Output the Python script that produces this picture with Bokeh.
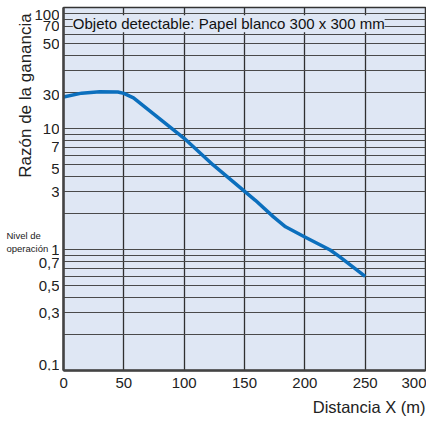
import math
from bokeh.plotting import figure
from bokeh.models import FixedTicker, Label, Range1d, Title
from bokeh.layouts import row
from bokeh.core.properties import value
from bokeh.embed import file_html
from bokeh.resources import INLINE

# ---- data ----
distance_m = [0, 15, 30, 45, 50, 58, 100, 124, 159, 174, 184, 200, 221, 229, 250]
gain_ratio = [18.2, 19.6, 20.1, 20.0, 19.5, 17.9, 8.3, 5.0, 2.55, 1.86, 1.54, 1.27, 0.99, 0.87, 0.60]

x_tick_pos = [0, 50, 100, 150, 200, 250, 291]
x_tick_labels = ["0", "50", "100", "150", "200", "250", "300"]
y_tick_pos = [0.11, 0.3, 0.5, 0.77, 1, 3, 4.6, 7, 10, 19, 50, 70, 86]
y_tick_labels = ["0,1", "0,3", "0,5", "0,7", "1", "3", "5", "7", "10", "30", "50", "70", "100"]
x_grid = [50, 100, 150, 200, 250]
y_grid = [0.2, 0.3, 0.4, 0.5, 0.6, 0.7, 0.8, 0.9, 1, 2, 3, 4, 5, 6, 7, 8, 9,
          10, 20, 30, 40, 50, 60, 70, 80, 90]
note_text = "Objeto detectable: Papel blanco 300 x 300 mm"
x_title = "Distancia X (m)"
y_title = "Razón de la ganancia"
level_text = ["Nivel de", "operación"]

FONT = "Liberation Sans"
BG = "#dfe7f4"
TXT = "#222222"
H = 423
LW = 59                       # width of the left strip holding the y labels
MW = 426 - LW                 # main figure width
MT, MB = 7, 53

y_range = Range1d(0.1, 100)

# ---------------- main plot ----------------
p = figure(width=MW, height=H, y_axis_type="log", output_backend="svg",
           toolbar_location=None, x_range=Range1d(0, 300), y_range=y_range,
           min_border_left=4, min_border_right=1, min_border_top=MT, min_border_bottom=MB)
p.background_fill_color = BG
p.border_fill_color = "white"
p.outline_line_color = "#333333"
p.outline_line_width = 1.5

p.xgrid.ticker = FixedTicker(ticks=x_grid)
p.ygrid.ticker = FixedTicker(ticks=y_grid)
p.xgrid.grid_line_color = "#2f2f2f"
p.xgrid.grid_line_width = 1.3
p.ygrid.grid_line_color = "#4a4a4a"
p.ygrid.grid_line_width = 1.2

p.xaxis.ticker = FixedTicker(ticks=x_tick_pos)
p.xaxis.major_label_overrides = {v: t for v, t in zip(x_tick_pos, x_tick_labels)}
p.yaxis.ticker = FixedTicker(ticks=[])
for ax in (p.xaxis, p.yaxis):
    ax.major_tick_line_color = None
    ax.minor_tick_line_color = None
    ax.major_tick_out = 0
    ax.major_tick_in = 0
    ax.axis_line_color = "#444444"
    ax.axis_line_width = 2.5
    ax.major_label_text_font = FONT
    ax.major_label_text_font_size = "15px"
    ax.major_label_text_color = TXT
p.xaxis.major_label_standoff = 7
p.yaxis.major_label_standoff = 0

p.line(distance_m, gain_ratio, line_color="#0b6fbd", line_width=3.5, line_join="round")

p.add_layout(Label(x=7.7, y=73.4, text=note_text, text_font=FONT, text_font_size="15px",
                   text_align="left", text_baseline="middle", text_color="#111111",
                   background_fill_color=BG))

p.add_layout(Title(text=x_title, align="right", text_font=FONT, text_font_size="16.5px",
                   text_font_style="normal", text_color=TXT, standoff=10), "below")

# ---------------- left strip: y tick labels, y title, operating level ----------------
left = figure(width=LW, height=H, y_axis_type="log", output_backend="svg",
              toolbar_location=None, x_range=Range1d(0, LW), y_range=y_range,
              min_border_left=0, min_border_right=0, min_border_top=MT, min_border_bottom=MB)
left.axis.visible = False
left.grid.visible = False
left.outline_line_color = None
left.background_fill_color = "white"
left.border_fill_color = "white"

left.text(x=[LW] * len(y_tick_pos), y=y_tick_pos, text=y_tick_labels,
          text_font=value(FONT), text_font_size="15px", text_color=TXT,
          text_align="right", text_baseline="middle")

frame_bottom = H - MB
left.add_layout(Label(x=25, y=frame_bottom - 95, x_units="screen", y_units="screen",
                      text=y_title, angle=math.pi / 2, text_font=FONT, text_font_size="17px",
                      text_align="center", text_baseline="middle", text_color=TXT))
for txt, sy in zip(level_text, [235, 248]):
    left.add_layout(Label(x=6, y=frame_bottom - sy, x_units="screen", y_units="screen",
                          text=txt, text_font=FONT, text_font_size="9.5px",
                          text_align="left", text_baseline="middle", text_color=TXT))

layout = row(left, p)
open("out.html", "w").write(file_html(layout, INLINE))
